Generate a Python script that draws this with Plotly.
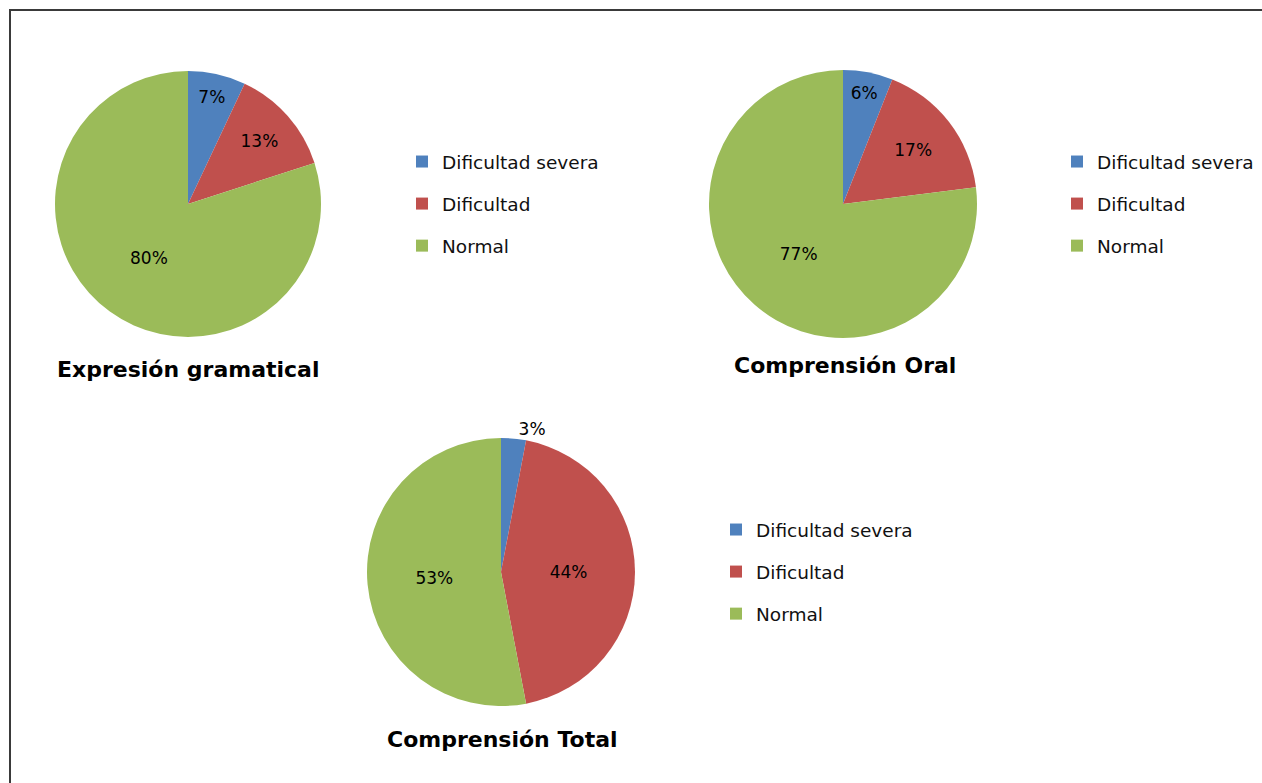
import plotly.graph_objects as go

categories = ["Dificultad severa", "Dificultad", "Normal"]
colors = ["#4F81BD", "#C0504D", "#9BBB59"]

titles = ["Expresión gramatical", "Comprensión Oral", "Comprensión Total"]
expresion_gramatical = [7, 13, 80]
comprension_oral = [6, 17, 77]
comprension_total = [3, 44, 53]

W, H = 1262, 783


def px(x):
    return x / W


def py(y):
    return 1 - y / H


fig = go.Figure()

# pie geometry (pixel boxes)
pies = [
    (expresion_gramatical, (55, 321, 71, 337), ["inside"] * 3, "legend"),
    (comprension_oral, (709, 977, 70, 338), ["inside"] * 3, "legend2"),
    (comprension_total, (367, 635, 438, 706), ["outside", "inside", "inside"], "legend3"),
]

for vals, (x0, x1, y0, y1), tpos, lg in pies:
    fig.add_trace(go.Pie(
        labels=categories, values=vals, sort=False, direction="clockwise", rotation=0,
        marker=dict(colors=colors, line=dict(width=0)),
        textinfo="percent", texttemplate="%{percent:.0%}",
        textposition=tpos, insidetextorientation="horizontal",
        textfont=dict(family="DejaVu Sans", size=17, color="black"),
        showlegend=False, hoverinfo="label+percent",
        domain=dict(x=[px(x0), px(x1)], y=[py(y1), py(y0)]),
    ))
    for i, (c, col) in enumerate(zip(categories, colors)):
        fig.add_trace(go.Scatter(
            x=[None], y=[None], mode="markers", name=c,
            marker=dict(symbol="square", size=12, color=col),
            legend=lg, legendgroup=lg + str(i), showlegend=True,
        ))

leg_common = dict(
    font=dict(family="DejaVu Sans", size=18.5, color="#111"),
    bgcolor="rgba(0,0,0,0)", tracegroupgap=15, itemwidth=30,
    xanchor="left", yanchor="top", traceorder="grouped",
)
fig.update_layout(
    legend=dict(x=px(402), y=py(143), **leg_common),
    legend2=dict(x=px(1057), y=py(143), **leg_common),
    legend3=dict(x=px(716), y=py(511), **leg_common),
)

title_pos = [(188, 369), (845, 366), (502, 739)]
for t, (x, y) in zip(titles, title_pos):
    fig.add_annotation(x=px(x), y=py(y), xref="paper", yref="paper", text="<b>%s</b>" % t,
                       showarrow=False, xanchor="center", yanchor="middle",
                       font=dict(family="DejaVu Sans", size=22, color="black"))

fig.add_shape(type="rect", xref="paper", yref="paper",
              x0=px(10), y0=-0.05, x1=1.05, y1=py(10),
              line=dict(color="#3a3a3a", width=2), fillcolor="rgba(0,0,0,0)")

fig.update_layout(
    width=W, height=H, margin=dict(l=0, r=0, t=0, b=0),
    paper_bgcolor="white", plot_bgcolor="white",
    xaxis=dict(visible=False), yaxis=dict(visible=False),
    uniformtext=dict(minsize=17, mode="show"),
)

fig.write_html("out.html")
